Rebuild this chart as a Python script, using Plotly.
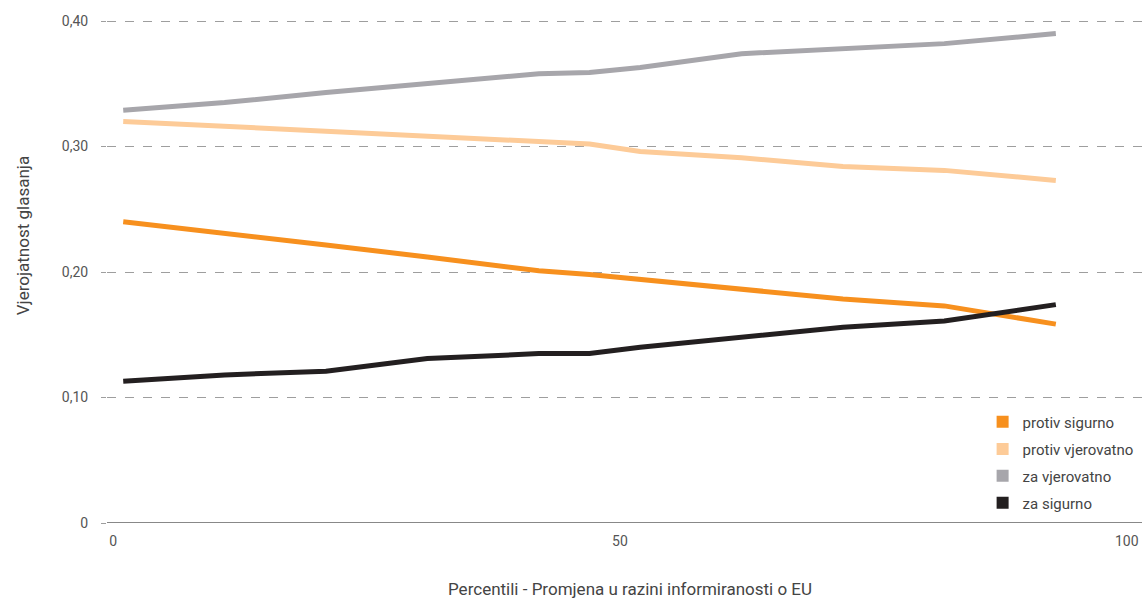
import plotly.graph_objects as go

x_pct = [1, 11, 21, 31, 42, 47, 52, 62, 72, 82, 93]
protiv_sigurno = [0.240, 0.231, 0.2215, 0.212, 0.201, 0.198, 0.194, 0.186, 0.1785, 0.173, 0.1585]
protiv_vjerovatno = [0.320, 0.316, 0.313, 0.308, 0.304, 0.302, 0.296, 0.291, 0.284, 0.281, 0.273]
za_vjerovatno = [0.329, 0.335, 0.343, 0.350, 0.358, 0.359, 0.363, 0.374, 0.378, 0.382, 0.390]
za_sigurno = [0.113, 0.118, 0.121, 0.131, 0.135, 0.135, 0.140, 0.148, 0.156, 0.161, 0.174]

series_names = ["protiv sigurno", "protiv vjerovatno", "za vjerovatno", "za sigurno"]
series_colors = ["#F7901E", "#FDCB98", "#A7A6AB", "#231F20"]
series_values = [protiv_sigurno, protiv_vjerovatno, za_vjerovatno, za_sigurno]

y_tickvals = [0, 0.1, 0.2, 0.3, 0.4]
y_ticktext = ["0", "0,10", "0,20", "0,30", "0,40"]
x_tickvals = [0, 50, 100]
x_ticktext = ["0", "50", "100"]

x_title = "Percentili - Promjena u razini informiranosti o EU"
y_title = "Vjerojatnost glasanja"

FONT = "Roboto, sans-serif"

legend_ids = ["legend", "legend2", "legend3", "legend4"]
legend_y = [0.197, 0.144, 0.0916, 0.039]

fig = go.Figure()
for name, color, vals in zip(series_names, series_colors, series_values):
    fig.add_trace(go.Scatter(x=x_pct, y=vals, mode="lines", name=name,
                             line=dict(color=color, width=5), showlegend=False,
                             hoverinfo="skip"))
for name, color, lid in zip(series_names, series_colors, legend_ids):
    fig.add_trace(go.Scatter(x=[None], y=[None], mode="markers", name=name,
                             legend=lid,
                             marker=dict(symbol="square", size=13, color=color)))

legend_common = dict(xanchor="left", yanchor="middle",
                     font=dict(family=FONT, size=15, color="#444444"),
                     bgcolor="rgba(0,0,0,0)", itemsizing="constant")
layout_legends = {}
for lid, ly in zip(legend_ids, legend_y):
    layout_legends[lid] = dict(x=0.846, y=ly, **legend_common)

fig.update_layout(
    width=1142, height=600,
    margin=dict(l=107, r=0, t=10, b=77, autoexpand=False),
    paper_bgcolor="white", plot_bgcolor="white",
    font=dict(family=FONT, size=14, color="#555555"),
    showlegend=True,
    xaxis=dict(range=[-0.6, 101.5], tickvals=x_tickvals, ticktext=x_ticktext,
               showgrid=False, zeroline=False, showline=False,
               ticks="", ticklabelstandoff=8),
    yaxis=dict(range=[0, 0.4088], tickvals=y_tickvals, ticktext=y_ticktext,
               showgrid=True, gridcolor="#9E9E9E", griddash="dash", gridwidth=1,
               zeroline=False, showline=False,
               ticks="outside", ticklen=5, tickcolor="#9E9E9E",
               ticklabelstandoff=10),
    **layout_legends,
)
fig.add_annotation(text=x_title, xref="paper", yref="paper", x=0.5, y=0,
                   xanchor="center", yanchor="middle", xshift=5, yshift=-66,
                   showarrow=False, font=dict(family=FONT, size=17, color="#444444"))
fig.add_annotation(text=y_title, xref="paper", yref="paper", x=0, y=0.559,
                   xanchor="center", yanchor="middle", xshift=-84, textangle=-90,
                   showarrow=False, font=dict(family=FONT, size=17, color="#444444"))
fig.add_shape(type="line", xref="paper", yref="y", x0=0, x1=1, y0=0, y1=0,
              line=dict(color="#888888", width=2))

fig.write_html("out.html", config={"displayModeBar": False},
               post_script="document.body.style.margin='0px';"
                           "document.body.style.overflow='hidden';")
